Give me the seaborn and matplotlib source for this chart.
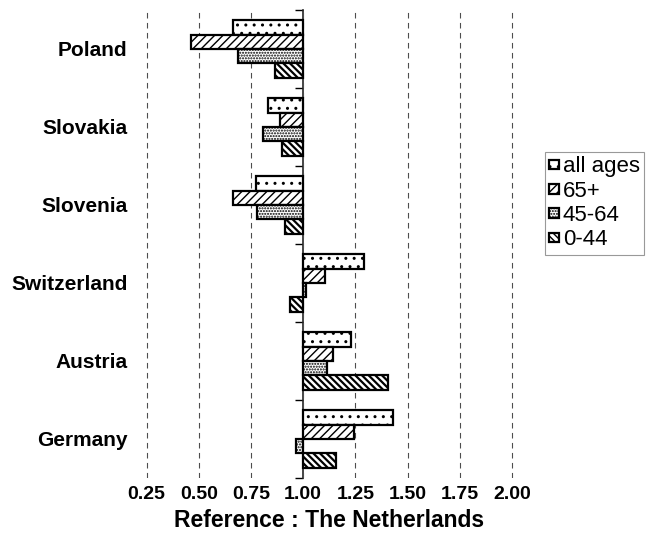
import matplotlib
matplotlib.use("Agg")
import matplotlib.pyplot as plt
import pandas as pd
import seaborn as sns

# Relative values (reference: The Netherlands = 1.00)
countries = ["Poland", "Slovakia", "Slovenia", "Switzerland", "Austria", "Germany"]
age_groups = ["all ages", "65+", "45-64", "0-44"]
all_ages = [0.666, 0.833, 0.773, 1.293, 1.229, 1.432]
age_65_plus = [0.461, 0.889, 0.666, 1.103, 1.141, 1.243]
age_45_64 = [0.688, 0.807, 0.777, 1.015, 1.116, 0.966]
age_0_44 = [0.865, 0.897, 0.913, 0.937, 1.405, 1.159]
xtick_values = [0.25, 0.50, 0.75, 1.00, 1.25, 1.50, 1.75, 2.00]
baseline = 1.0

hatches = ["..", "////", "......", "\\\\\\\\\\"]

# long table; bars are drawn from the 1.00 baseline
series = [all_ages, age_65_plus, age_45_64, age_0_44]
rows = []
for age, vals in zip(age_groups, series):
    for c, v in zip(countries, vals):
        rows.append({"country": c, "age": age, "ratio": v})
df = pd.DataFrame(rows)
df["dev"] = df["ratio"] - baseline

sns.set_style("white")
plt.rcParams["font.family"] = ["Liberation Sans", "DejaVu Sans"]
plt.rcParams["hatch.linewidth"] = 1.0
plt.rcParams["text.color"] = "black"
plt.rcParams["xtick.color"] = "black"
plt.rcParams["ytick.color"] = "black"
plt.rcParams["axes.labelcolor"] = "black"

# small margin so the 0.25 and 2.00 gridlines are not clipped
pad = 0.01
lo, hi = xtick_values[0] - baseline - pad, xtick_values[-1] - baseline + pad
px_per_unit = 208.8
left_px = 146.5 - pad * px_per_unit
width_px = (hi - lo) * px_per_unit

fig = plt.figure(figsize=(6.48, 5.46), dpi=100)
ax = fig.add_axes([left_px / 648, 1 - 478 / 546, width_px / 648, 468 / 546])

sns.barplot(data=df, y="country", x="dev", hue="age", order=countries,
            hue_order=age_groups, orient="h", width=0.74, errorbar=None,
            palette=["white"] * 4, saturation=1, edgecolor="black",
            linewidth=1.6, legend=False, ax=ax, zorder=3)

for cont, h in zip(ax.containers, hatches):
    for p in cont:
        p.set_hatch(h)
        if h.startswith("\\") and hasattr(p, "set_hatch_linewidth"):
            p.set_hatch_linewidth(1.6)

ax.set_xlim(lo, hi)
ax.set_ylim(len(countries) - 0.5, -0.5)
ax.set_xticks([t - baseline for t in xtick_values])
ax.set_xticklabels([f"{t:.2f}" for t in xtick_values])
ax.grid(axis="x", color="0.3", linewidth=0.8, linestyle=(0, (5, 4)))
ax.set_axisbelow(True)
for s in ax.spines.values():
    s.set_visible(False)

ax.tick_params(axis="x", length=0, pad=6, labelsize=14)
ax.tick_params(axis="y", length=0, pad=12, labelsize=15)
for lab in ax.get_xticklabels() + ax.get_yticklabels():
    lab.set_fontweight("bold")
ax.set_ylabel("")
ax.set_xlabel("Reference : The Netherlands", fontsize=16.5, fontweight="bold",
              labelpad=4)

# vertical axis line at the baseline with ticks between countries
loc = (0 - lo) / (hi - lo)
sec = ax.secondary_yaxis(loc)
sec.set_yticks([i - 0.5 for i in range(len(countries) + 1)])
sec.tick_params(axis="y", length=6, width=1, labelleft=False, direction="out")
sec.spines["left"].set_linewidth(1.2)

leg = ax.legend(ax.containers, age_groups, loc="upper left",
                bbox_to_anchor=(545 / 648, 1 - 152 / 546),
                bbox_transform=fig.transFigure, borderaxespad=0,
                fontsize=16, frameon=True, fancybox=False, framealpha=1,
                handlelength=0.45, handleheight=0.3, handletextpad=0.15,
                labelspacing=0.15, borderpad=0.2)
leg.get_frame().set_edgecolor("0.6")
leg.get_frame().set_linewidth(0.8)

fig.savefig("out.png", dpi=100)
